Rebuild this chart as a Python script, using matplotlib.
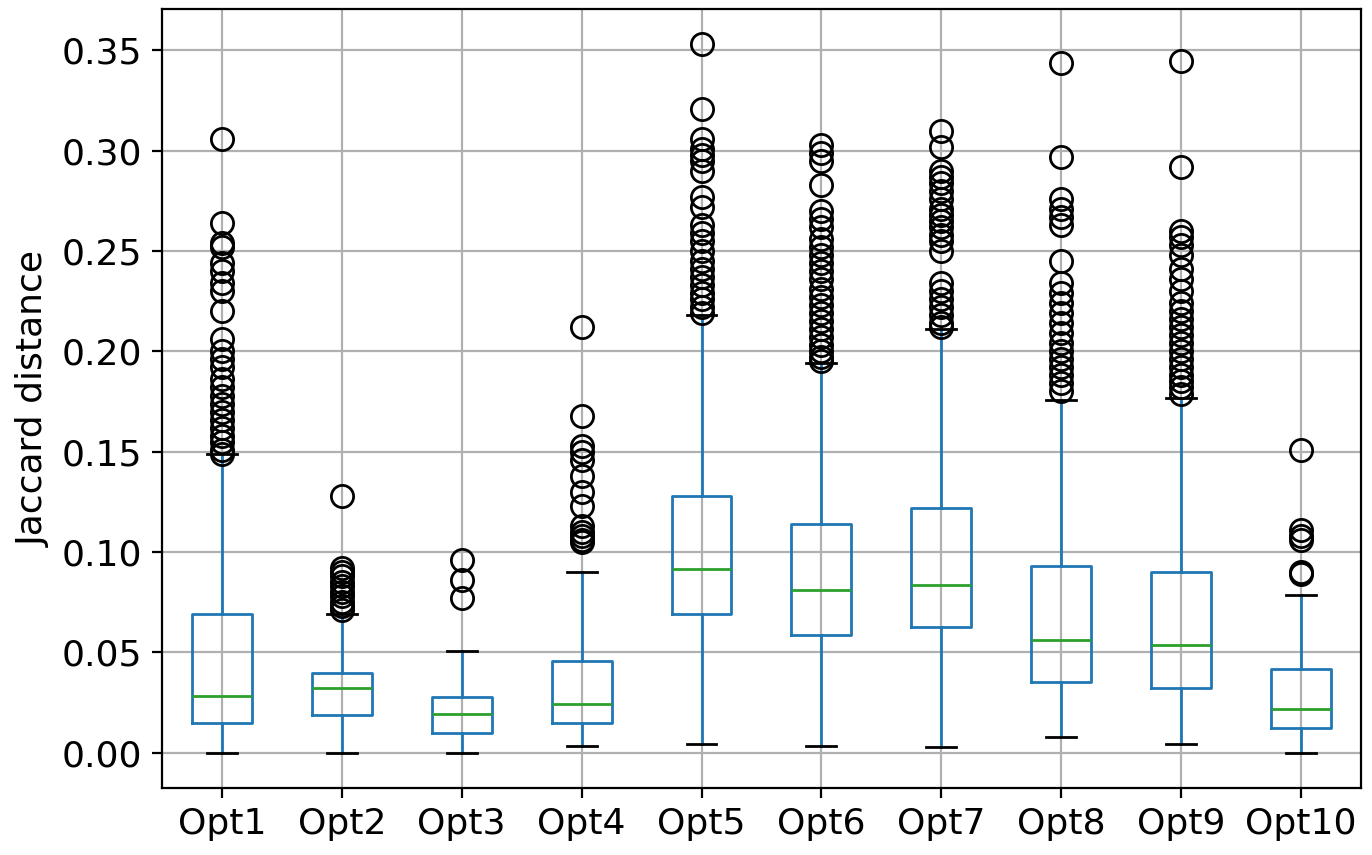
import matplotlib
matplotlib.use('Agg')
import matplotlib.pyplot as plt

labels = ['Opt1', 'Opt2', 'Opt3', 'Opt4', 'Opt5', 'Opt6', 'Opt7', 'Opt8', 'Opt9', 'Opt10']
whislo = [0.000, 0.000, 0.000, 0.0035, 0.0045, 0.0035, 0.003, 0.008, 0.0045, 0.000]
q1 = [0.0145, 0.0185, 0.010, 0.0145, 0.069, 0.0586, 0.0626, 0.035, 0.032, 0.012]
med = [0.028, 0.032, 0.019, 0.024, 0.0916, 0.081, 0.0836, 0.056, 0.0536, 0.0215]
q3 = [0.069, 0.0396, 0.0275, 0.0456, 0.128, 0.1137, 0.122, 0.093, 0.090, 0.0416]
whishi = [0.1487, 0.069, 0.0506, 0.090, 0.218, 0.194, 0.211, 0.1758, 0.177, 0.0786]

fliers = [
    [0.306, 0.264, 0.254, 0.252, 0.244, 0.240, 0.234, 0.230, 0.220, 0.206, 0.200, 0.196,
     0.192, 0.186, 0.182, 0.178, 0.174, 0.170, 0.166, 0.162, 0.158, 0.155, 0.151, 0.149],
    [0.128, 0.092, 0.090, 0.088, 0.085, 0.083, 0.080, 0.078, 0.075, 0.073, 0.071],
    [0.096, 0.086, 0.077],
    [0.212, 0.168, 0.153, 0.150, 0.146, 0.138, 0.130, 0.123, 0.113, 0.110, 0.108, 0.106, 0.105],
    [0.353, 0.321, 0.306, 0.301, 0.298, 0.295, 0.290, 0.277, 0.272, 0.263, 0.259, 0.255,
     0.250, 0.245, 0.241, 0.237, 0.233, 0.229, 0.226, 0.222, 0.219],
    [0.303, 0.299, 0.295, 0.283, 0.270, 0.266, 0.262, 0.256, 0.252, 0.248, 0.244, 0.240,
     0.236, 0.231, 0.227, 0.223, 0.219, 0.215, 0.211, 0.207, 0.203, 0.200, 0.197, 0.195],
    [0.310, 0.302, 0.290, 0.287, 0.284, 0.280, 0.276, 0.271, 0.268, 0.265, 0.262, 0.258,
     0.255, 0.250, 0.234, 0.230, 0.226, 0.222, 0.218, 0.214, 0.212],
    [0.344, 0.297, 0.276, 0.271, 0.267, 0.263, 0.245, 0.234, 0.229, 0.224, 0.219, 0.214,
     0.209, 0.204, 0.200, 0.196, 0.192, 0.188, 0.184, 0.180],
    [0.345, 0.292, 0.260, 0.257, 0.253, 0.248, 0.241, 0.236, 0.230, 0.224, 0.220, 0.216,
     0.212, 0.208, 0.204, 0.200, 0.196, 0.192, 0.188, 0.185, 0.182, 0.179],
    [0.151, 0.111, 0.108, 0.106, 0.090, 0.089],
]

plt.rcParams['font.size'] = 13

stats = []
for i in range(len(labels)):
    stats.append({'label': labels[i], 'whislo': whislo[i], 'q1': q1[i], 'med': med[i],
                  'q3': q3[i], 'whishi': whishi[i], 'fliers': fliers[i]})

fig = plt.figure(figsize=(6.86, 4.275), dpi=200)
ax = fig.add_axes([0.118, 0.0784, 0.874, 0.911])
ax.bxp(stats,
       boxprops=dict(color='C0'),
       whiskerprops=dict(color='C0'),
       capprops=dict(color='black'),
       medianprops=dict(color='C2'),
       flierprops=dict(marker='o', markerfacecolor='none', markeredgecolor='black', markersize=8))
ax.grid(True)
ax.set_axisbelow(True)
ax.set_ylabel('Jaccard distance')
plt.savefig('out.png', dpi=200)
